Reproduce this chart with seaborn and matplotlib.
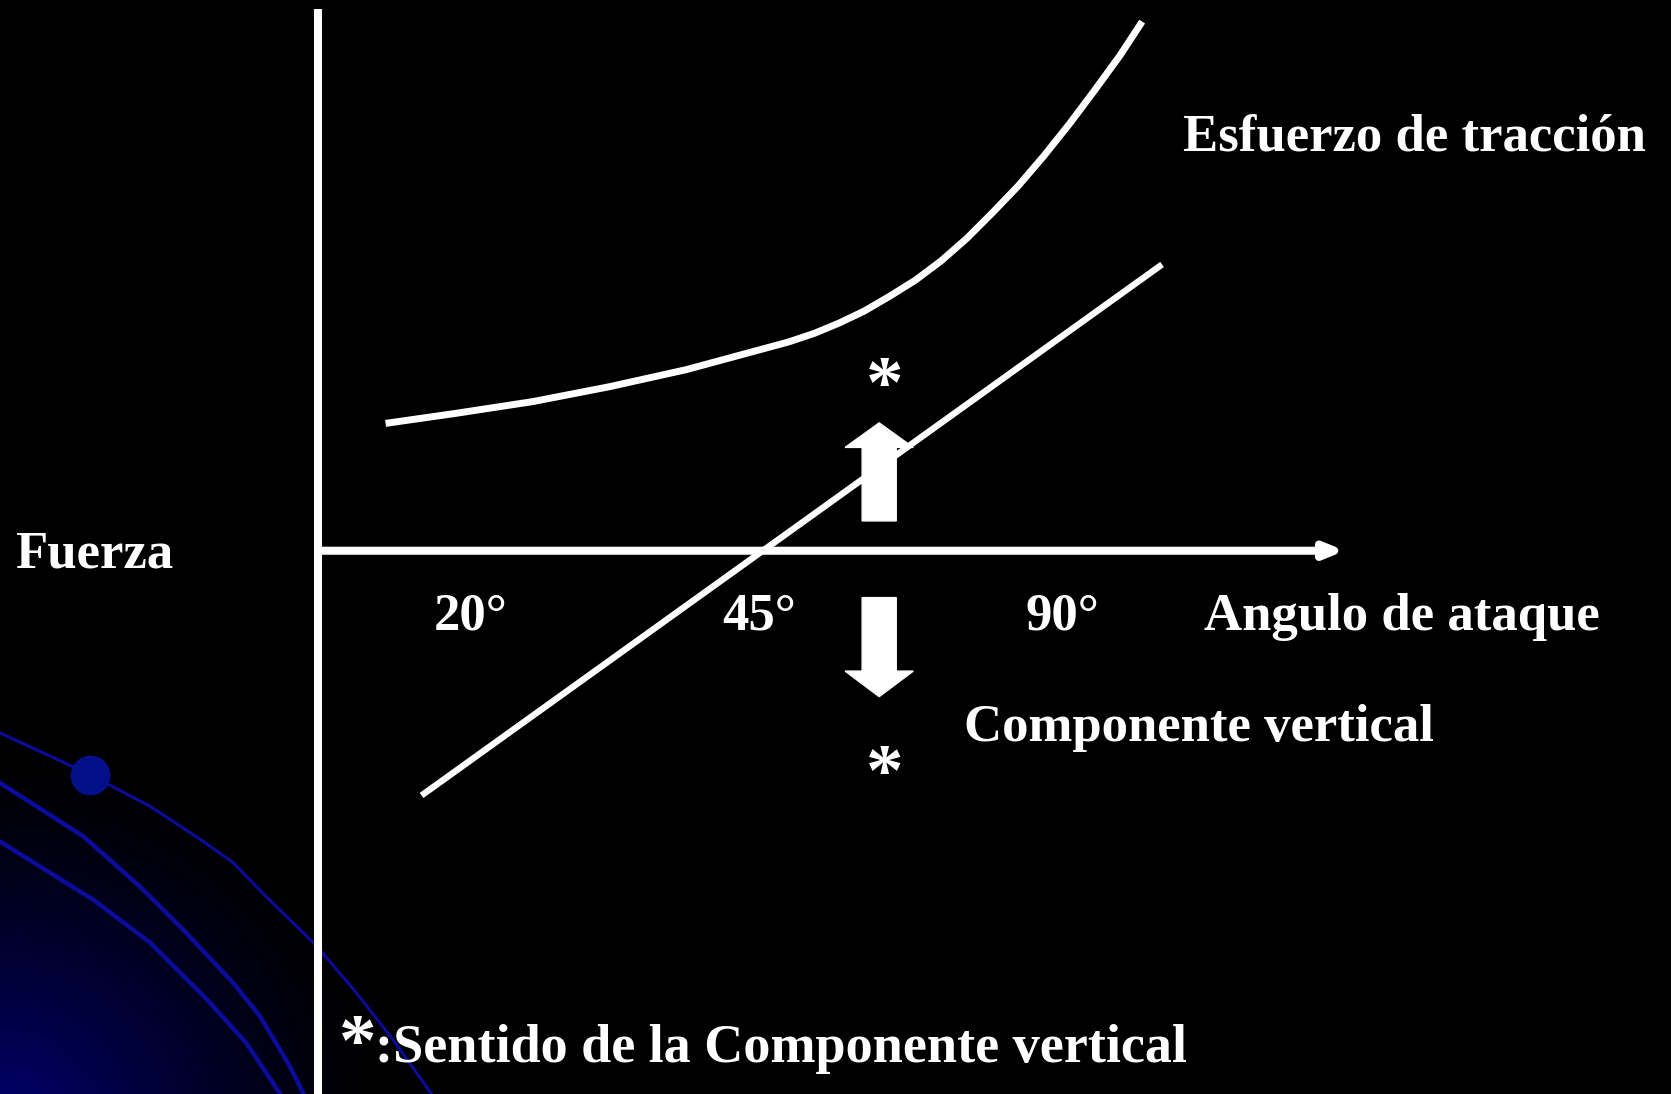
# libraries
import seaborn as sns
import matplotlib.pyplot as plt
import pandas as pd
import numpy as np
from matplotlib.patches import Circle

# diagram data (slide coordinates, y grows downwards)
traccion_x = [365, 428, 500, 572, 644, 692, 740, 764, 788, 811, 835, 859, 883,
              907, 931, 955, 979, 1003, 1027, 1051, 1070]
traccion_y = [397, 388, 377, 363, 347, 334, 321, 313, 303, 292, 278, 263, 245,
              224, 200, 175, 147, 117, 85, 52, 23]
vertical_x = [398, 1088]
vertical_y = [745, 250]
angle_labels = ["20°", "45°", "90°"]
angle_pos = [442, 712, 997]

# decoration curves (bottom-left corner)
deco1_x = [0, 69, 103, 141, 188, 219, 250, 282, 296, 332, 368, 405]
deco1_y = [688, 720, 737, 757, 788, 810, 842, 873, 887, 929, 975, 1027]
deco2_x = [0, 78, 131, 175, 219, 244, 272, 285]
deco2_y = [735, 785, 832, 876, 923, 954, 1001, 1027]
deco3_x = [0, 88, 141, 194, 231, 263]
deco3_y = [790, 845, 885, 938, 979, 1027]

W, H = 1568, 1027
fig = plt.figure(figsize=(16.71, 10.94), dpi=100, facecolor="black")
ax = fig.add_axes([0, 0, 1, 1])
ax.set_facecolor("black")
ax.set_xlim(0, W)
ax.set_ylim(H, 0)
ax.axis("off")

# blue glow in the corner
gx, gy = np.meshgrid(np.linspace(0, W, 400), np.linspace(0, H, 260))
r = np.hypot(gx, gy - H - 40)
glow = np.clip(1 - r / 360, 0, 1) ** 1.3
img = np.zeros(gx.shape + (3,))
img[..., 2] = 0.45 * glow
ax.imshow(img, extent=[0, W, H, 0], aspect="auto", zorder=0)

blue = "#0b0b9c"
for xs, ys, lw in [(deco1_x, deco1_y, 2.2), (deco2_x, deco2_y, 3.2), (deco3_x, deco3_y, 3.2)]:
    sns.lineplot(x=xs, y=ys, ax=ax, color=blue, lw=lw, sort=False, estimator=None, zorder=1)
ax.add_patch(Circle((85, 728), 18, color="#03108a", zorder=2))

white = "white"
# axes of the diagram
ax.plot([298, 298], [8, H], color=white, lw=5.8, solid_capstyle="butt", zorder=3)
ax.annotate("", xy=(1262, 517), xytext=(298, 517),
            arrowprops=dict(arrowstyle="-|>,head_length=1.1,head_width=0.45",
                            color=white, lw=5.8, shrinkA=0, shrinkB=0,
                            capstyle="butt"), zorder=3)

# curves
df = pd.DataFrame({"x": traccion_x, "y": traccion_y})
sns.lineplot(data=df, x="x", y="y", ax=ax, color=white, lw=5, zorder=4)
sns.lineplot(x=vertical_x, y=vertical_y, ax=ax, color=white, lw=4.6, zorder=4)

# up and down block arrows
ax.fill([809, 841, 841, 857, 825, 793, 809], [489, 489, 420, 420, 397, 420, 420],
        color=white, zorder=5)
ax.fill([809, 841, 841, 857, 825, 793, 809], [561, 561, 630, 630, 654, 630, 630],
        color=white, zorder=5)

font = dict(family="Liberation Serif", weight="bold", color=white)
ax.text(830, 382, "*", fontsize=54, ha="center", va="baseline", **font)
ax.text(830, 746, "*", fontsize=54, ha="center", va="baseline", **font)

ax.text(1110, 141, "Esfuerzo de tracción", fontsize=38, ha="left", va="baseline", **font)
ax.text(14, 533, "Fuerza", fontsize=38, ha="left", va="baseline", **font)
for lab, xp in zip(angle_labels, angle_pos):
    ax.text(xp, 591, lab, fontsize=38, ha="center", va="baseline", **font)
ax.text(1130, 591, "Angulo de ataque", fontsize=38, ha="left", va="baseline", **font)
ax.text(905, 696, "Componente vertical", fontsize=38, ha="left", va="baseline", **font)
ax.text(318, 1000, "*", fontsize=54, ha="left", va="baseline", **font)
ax.text(352, 997, ":Sentido de la Componente vertical", fontsize=39, ha="left",
        va="baseline", **font)

plt.savefig("out.png", dpi=100, facecolor="black")
